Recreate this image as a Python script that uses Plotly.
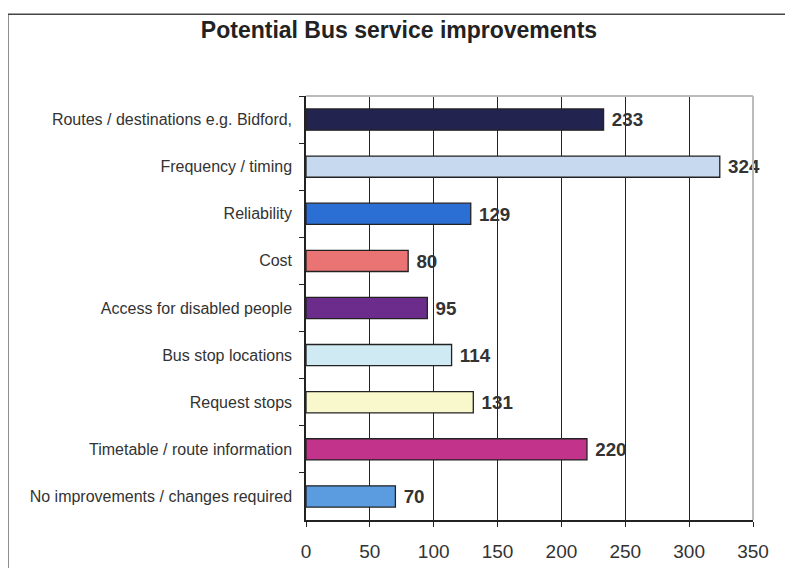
import plotly.graph_objects as go

categories = [
    "Routes / destinations e.g. Bidford,",
    "Frequency / timing",
    "Reliability",
    "Cost",
    "Access for disabled people",
    "Bus stop locations",
    "Request stops",
    "Timetable / route information",
    "No improvements / changes required",
]
values = [233, 324, 129, 80, 95, 114, 131, 220, 70]
colors = ["#23234f", "#c6d9ee", "#2b6fd4", "#ea7474", "#6b2c8c",
          "#cfeaf2", "#f8f8cc", "#c2338c", "#5b9be0"]
x_ticks = [0, 50, 100, 150, 200, 250, 300, 350]

fig = go.Figure()
fig.add_trace(go.Bar(
    y=categories, x=values, orientation="h",
    marker=dict(color=colors, line=dict(color="#222222", width=1.3)),
    text=[str(v) for v in values], texttemplate=" %{text}", textposition="outside",
    textfont=dict(family="Liberation Sans, Arial", size=19.5, color="#333333", weight="bold"),
    cliponaxis=False,
))

fig.update_layout(
    width=785, height=560,
    margin=dict(l=298, r=40, t=88, b=48),
    paper_bgcolor="white", plot_bgcolor="white",
    bargap=0.55,
    showlegend=False,
    title=dict(text="<b>Potential Bus service improvements</b>", x=391/785, xanchor="center",
               y=1-22/560, yanchor="middle",
               font=dict(family="Liberation Sans, Arial", size=23, color="#222222")),
    xaxis=dict(range=[0, 350], tickvals=x_ticks, showgrid=True, gridcolor="#222222", gridwidth=1.3,
               showline=True, linecolor="#222222", linewidth=1.5, ticks="outside", ticklen=5,
               tickcolor="#222222", ticklabelstandoff=8, zeroline=False, automargin=False,
               tickfont=dict(family="Liberation Sans, Arial", size=19, color="#333333")),
    yaxis=dict(autorange="reversed", showline=True, linecolor="#222222", linewidth=1.5,
               ticks="outside", tickson="boundaries", ticklen=5, tickcolor="#222222",
               ticklabelstandoff=9, showgrid=False, automargin=False,
               tickfont=dict(family="Liberation Sans, Arial", size=16, color="#333333")),
    shapes=[
        dict(type="line", xref="paper", yref="paper", x0=0, x1=1, y0=1, y1=1,
             line=dict(color="#bbbbbb", width=2), layer="above"),
        dict(type="line", xref="paper", yref="paper", x0=1, x1=1, y0=0, y1=1,
             line=dict(color="#bbbbbb", width=2), layer="above"),
        dict(type="rect", xref="paper", yref="paper", x0=-0.667, x1=1.074, y0=-0.2, y1=1.193,
             line=dict(color="#444444", width=1.5)),
    ],
)

fig.write_html("out.html")
